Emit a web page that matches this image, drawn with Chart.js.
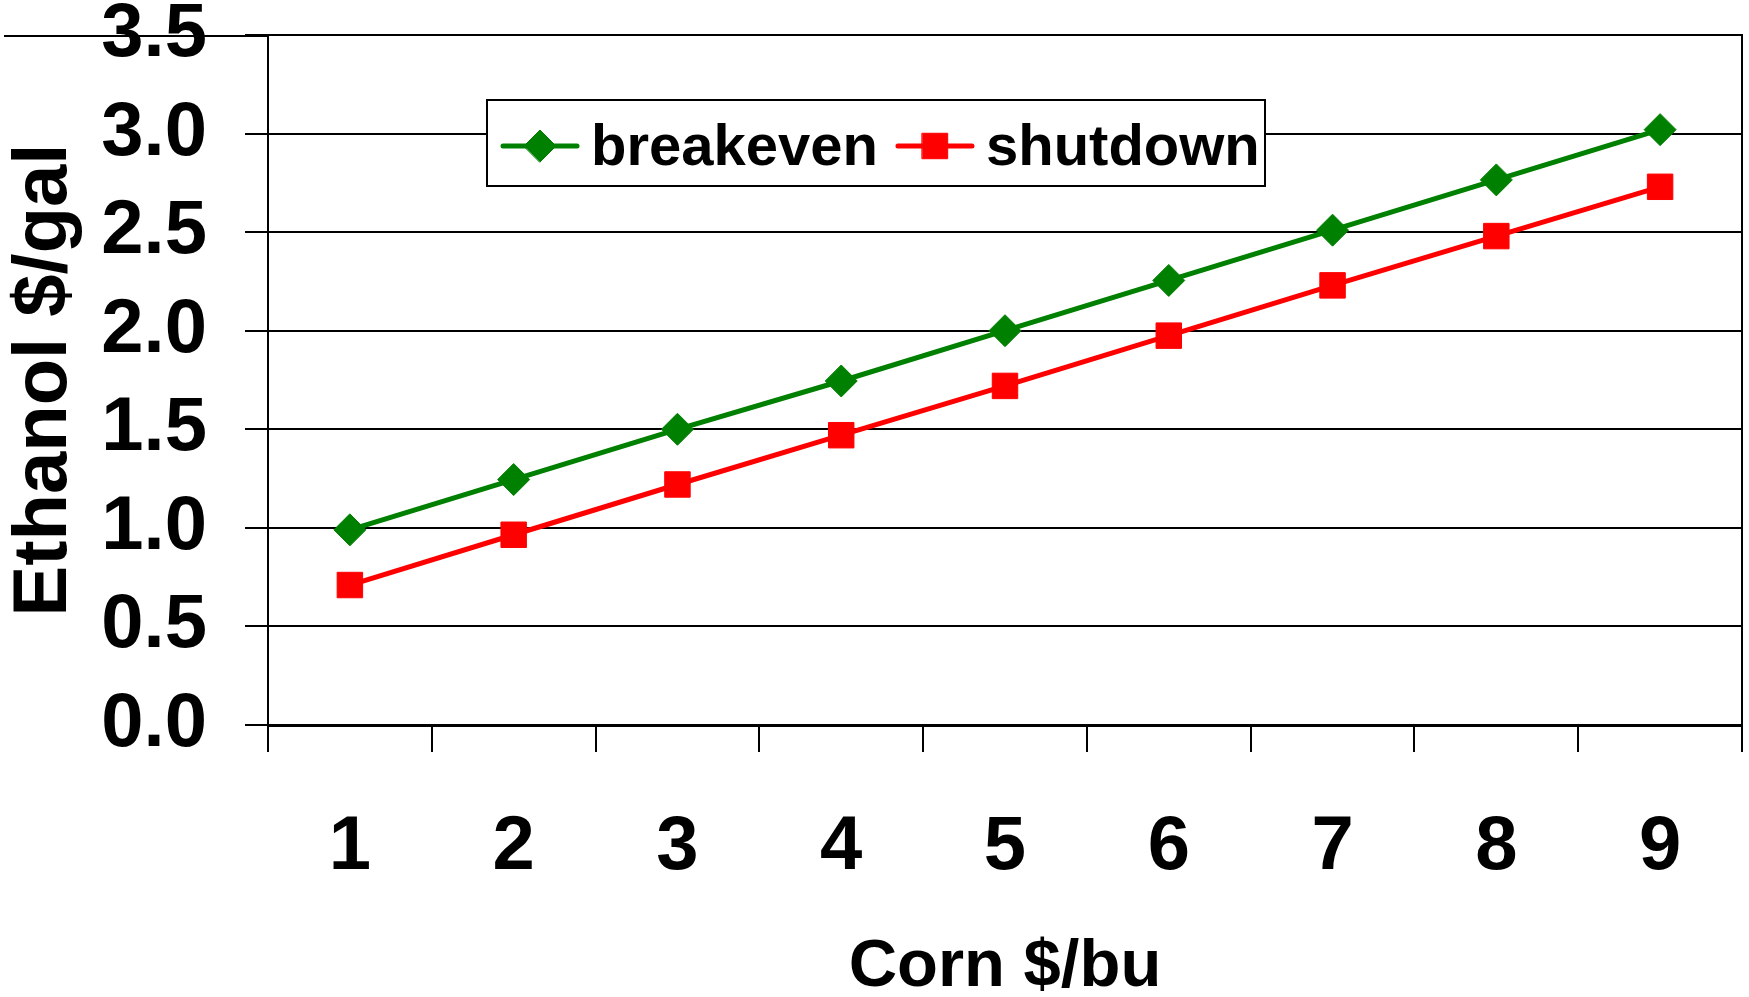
<!DOCTYPE html>
<html>
<head>
<meta charset="utf-8">
<title>Ethanol $/gal vs Corn $/bu</title>
<script src="https://cdn.jsdelivr.net/npm/chart.js@4.4.0/dist/chart.umd.min.js"></script>
<style>
    html, body { margin: 0; padding: 0; background: #fff; }
    #wrap { width: 1749px; height: 997px; }
</style>
</head>
<body>
<div id="wrap"><canvas id="ethanolChart" width="1749" height="997"></canvas></div>
<script>
// --- DONNÉES ---
// Prix du maïs ($/bu) en abscisse
const cornPrices = ['1', '2', '3', '4', '5', '6', '7', '8', '9'];
// Prix de l'éthanol ($/gal)
const breakeven = [0.99, 1.245, 1.50, 1.745, 2.00, 2.255, 2.51, 2.765, 3.02];
const shutdown = [0.71, 0.965, 1.22, 1.47, 1.72, 1.975, 2.23, 2.48, 2.73];
// Graduations de l'axe vertical
const yTicks = [0, 0.5, 1.0, 1.5, 2.0, 2.5, 3.0, 3.5];

const FONT = '"Liberation Sans", Arial, sans-serif';

document.addEventListener('DOMContentLoaded', function() {

    // --- 1. LÉGENDE ENCADRÉE DANS LA ZONE DU GRAPHIQUE ---
    const legendBox = {
        id: 'legendBox',
        afterDraw(chart) {
            const { ctx, chartArea } = chart;
            const x0 = chartArea.left + 219;
            const y0 = chartArea.top + 65;
            const w = 778, h = 86;
            const cy = y0 + 46;

            ctx.save();
            ctx.fillStyle = '#fff';
            ctx.fillRect(x0, y0, w, h);
            ctx.strokeStyle = '#000';
            ctx.lineWidth = 2;
            ctx.strokeRect(x0, y0, w, h);

            ctx.font = 'bold 58px ' + FONT;
            ctx.textBaseline = 'middle';
            ctx.textAlign = 'left';

            let x = x0 + 16;
            chart.data.datasets.forEach(ds => {
                // petit trait
                ctx.strokeStyle = ds.borderColor;
                ctx.lineWidth = 5;
                ctx.lineCap = 'round';
                ctx.beginPath();
                ctx.moveTo(x, cy);
                ctx.lineTo(x + 74, cy);
                ctx.stroke();
                // symbole
                ctx.fillStyle = ds.backgroundColor;
                ctx.lineWidth = 1;
                Chart.helpers.drawPoint(ctx, {
                    pointStyle: ds.pointStyle,
                    radius: ds.pointRadius,
                    rotation: 0,
                    borderWidth: 1
                }, x + 37, cy);
                // texte
                ctx.fillStyle = '#000';
                ctx.fillText(ds.label, x + 88, cy + 3);
                x += 88 + ctx.measureText(ds.label).width + 20;
            });
            ctx.restore();
        }
    };

    // --- 2. TRAIT DU HAUT QUI DÉPASSE À GAUCHE ---
    const topRule = {
        id: 'topRule',
        afterDraw(chart) {
            const { ctx, chartArea } = chart;
            const y = chart.scales.y.getPixelForValue(yTicks[yTicks.length - 1]) + 1;
            ctx.save();
            ctx.strokeStyle = '#000';
            ctx.lineWidth = 2;
            ctx.beginPath();
            ctx.moveTo(4, y);
            ctx.lineTo(chartArea.left, y);
            ctx.stroke();
            ctx.restore();
        }
    };

    // --- 3. LE GRAPHIQUE ---
    const canvas = document.getElementById('ethanolChart');
    const ctx = canvas.getContext('2d');

    new Chart(ctx, {
        type: 'line',
        data: {
            labels: cornPrices,
            datasets: [{
                label: 'breakeven',
                data: breakeven,
                borderColor: '#008000',
                backgroundColor: '#008000',
                borderWidth: 5,
                pointStyle: 'rectRot',
                pointRadius: 16,
                pointBorderWidth: 1,
                tension: 0
            }, {
                label: 'shutdown',
                data: shutdown,
                borderColor: '#ff0000',
                backgroundColor: '#ff0000',
                borderWidth: 5,
                pointStyle: 'rect',
                pointRadius: 18,
                pointBorderWidth: 1,
                tension: 0
            }]
        },
        options: {
            responsive: false,
            devicePixelRatio: 1,
            animation: false,
            layout: { autoPadding: false, padding: { top: 35, right: 7, bottom: 0, left: 0 } },
            plugins: {
                legend: { display: false },
                tooltip: { enabled: false }
            },
            scales: {
                x: {
                    offset: true,
                    grid: { offset: true, drawOnChartArea: false, color: '#000', lineWidth: 2, tickLength: 27 },
                    border: { color: '#000', width: 3 },
                    ticks: {
                        color: '#000',
                        font: { family: FONT, size: 76, weight: 'bold' },
                        padding: 50,
                        maxRotation: 0,
                        autoSkip: false
                    },
                    title: {
                        display: true,
                        text: 'Corn $/bu',
                        color: '#000',
                        font: { family: FONT, size: 67, weight: 'bold', lineHeight: 0.9 },
                        padding: { top: 0, bottom: -1 }
                    },
                    afterFit: s => { s.height = 272; s.paddingLeft = 0; s.paddingRight = 0; }
                },
                y: {
                    min: 0,
                    max: 3.5,
                    afterBuildTicks: s => { s.ticks = yTicks.map(v => ({ value: v })); },
                    grid: { color: '#000', lineWidth: 2, tickLength: 23 },
                    border: { color: '#000', width: 2 },
                    ticks: {
                        color: '#000',
                        font: { family: FONT, size: 76, weight: 'bold' },
                        padding: 38,
                        callback: v => Number(v).toFixed(1)
                    },
                    title: {
                        display: true,
                        text: 'Ethanol $/gal',
                        color: '#000',
                        font: { family: FONT, size: 76, weight: 'bold', lineHeight: 1 },
                        padding: { top: 7, bottom: 0 }
                    },
                    afterFit: s => { s.width = 268; s.paddingTop = 0; s.paddingBottom = 0; }
                },
                // axe fantôme pour le bord droit du cadre
                yRight: {
                    position: 'right',
                    display: true,
                    min: 0,
                    max: 1,
                    grid: { display: false },
                    ticks: { display: false },
                    border: { display: true, color: '#000', width: 2 },
                    afterFit: s => { s.width = 0; s.paddingTop = 0; s.paddingBottom = 0; }
                }
            }
        },
        plugins: [legendBox, topRule]
    });
});
</script>
</body>
</html>
